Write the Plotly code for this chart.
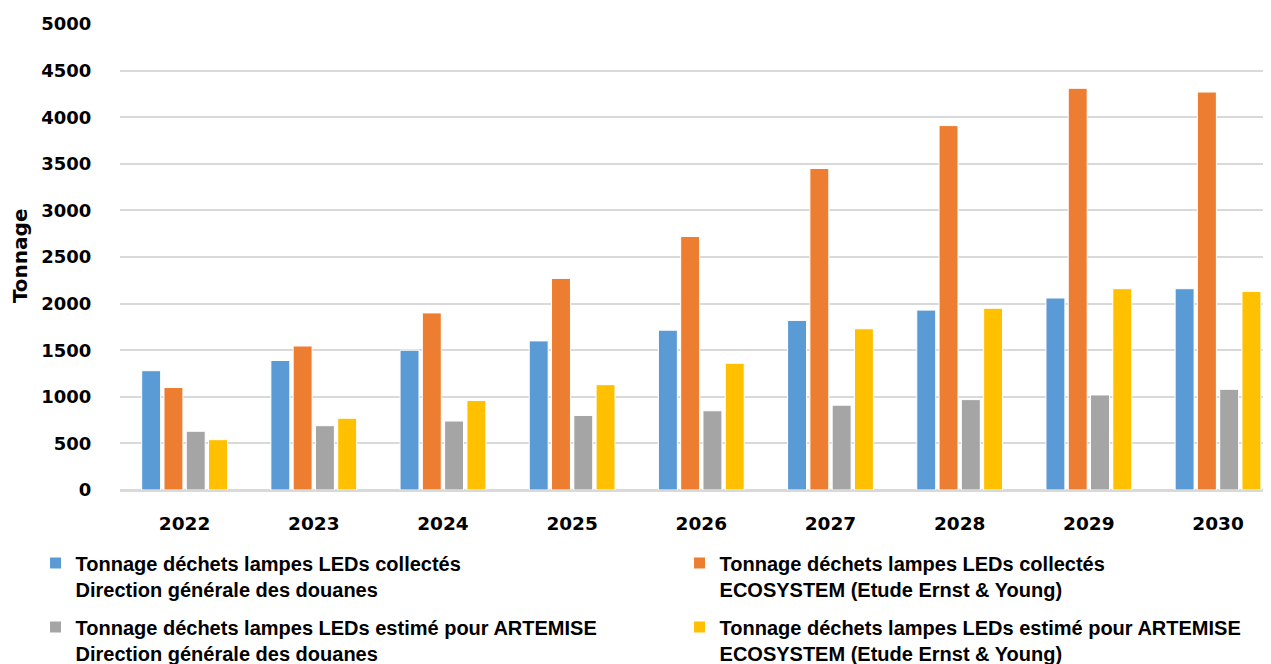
import plotly.graph_objects as go

years = ["2022", "2023", "2024", "2025", "2026", "2027", "2028", "2029", "2030"]
douanes_collectes = [1280, 1390, 1500, 1600, 1715, 1820, 1930, 2060, 2160]
ecosystem_collectes = [1100, 1545, 1900, 2270, 2720, 3450, 3910, 4310, 4270]
douanes_artemise = [630, 690, 740, 800, 850, 910, 970, 1020, 1080]
ecosystem_artemise = [540, 770, 960, 1130, 1360, 1730, 1950, 2160, 2130]
y_title = "Tonnage"

names = [
    "Tonnage déchets lampes LEDs collectés<br>Direction générale des douanes",
    "Tonnage déchets lampes LEDs collectés<br>ECOSYSTEM (Etude Ernst & Young)",
    "Tonnage déchets lampes LEDs estimé pour ARTEMISE<br>Direction générale des douanes",
    "Tonnage déchets lampes LEDs estimé pour ARTEMISE<br>ECOSYSTEM (Etude Ernst & Young)",
]
colors = ["#5B9BD5", "#ED7D31", "#A5A5A5", "#FFC000"]
legend_ids = ["legend", "legend2", "legend", "legend2"]
series = [douanes_collectes, ecosystem_collectes, douanes_artemise, ecosystem_artemise]

TICKF = dict(family="DejaVu Sans", size=18, color="#000000", weight="bold")
XTICKF = dict(family="DejaVu Sans", size=18.5, color="#000000", weight="bold")
TITLEF = dict(family="DejaVu Sans", size=20, color="#000000", weight="bold")
LEGF = dict(family="Liberation Sans", size=20, color="#000000", weight="bold")

fig = go.Figure()
for i, (name, col, vals, lg) in enumerate(zip(names, colors, series, legend_ids)):
    fig.add_trace(go.Bar(
        x=years, y=vals, name=name, legend=lg, legendgroup=f"g{i}",
        marker=dict(color=col, line=dict(color="white", width=1)),
    ))

legend_common = dict(
    orientation="v", xref="container", yref="container",
    xanchor="left", yanchor="top", valign="top", traceorder="grouped",
    font=LEGF, itemwidth=30, tracegroupgap=9, bgcolor="rgba(0,0,0,0)",
)

fig.update_layout(
    width=1263, height=656,
    barmode="group", bargap=0.31, bargroupgap=0.15,
    plot_bgcolor="white", paper_bgcolor="white",
    margin=dict(l=112, r=0, t=16, b=174, autoexpand=False),
    font=dict(family="Liberation Sans", size=19, color="#000000"),
    xaxis=dict(
        type="category", range=[-0.5, 8.41], automargin=False,
        tickfont=XTICKF,
        showline=True, linecolor="#D9D9D9", linewidth=2,
        ticks="", ticklabelstandoff=16,
    ),
    yaxis=dict(
        range=[0, 5000], dtick=500, automargin=False,
        tickfont=TICKF,
        showgrid=True, gridcolor="#D9D9D9", gridwidth=1.5,
        zeroline=True, zerolinecolor="#D9D9D9", zerolinewidth=2,
        ticks="outside", ticklen=24, tickcolor="rgba(0,0,0,0)",
    ),
    legend=dict(x=0.0218, y=0.1837, **legend_common),
    legend2=dict(x=0.5317, y=0.1837, **legend_common),
    showlegend=True,
    annotations=[dict(
        text=y_title, textangle=-90, showarrow=False,
        xref="paper", yref="paper", x=-0.0869, y=0.504,
        xanchor="center", yanchor="middle", font=TITLEF,
    )],
)

fig.write_html("out.html")
